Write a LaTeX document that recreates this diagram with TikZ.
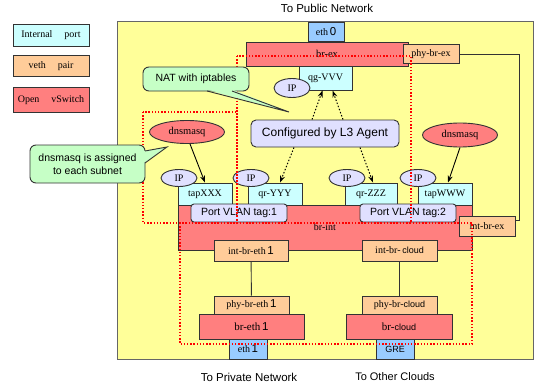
\documentclass[tikz,border=0pt]{standalone}
\usepackage{fontspec}
\setmainfont{Liberation Serif}
\setsansfont{Liberation Sans}
\usetikzlibrary{arrows.meta,shapes.geometric}
\definecolor{yel}{HTML}{FFFF99}
\definecolor{ovs}{HTML}{FF7F7F}
\definecolor{veth}{HTML}{FFCC99}
\definecolor{iport}{HTML}{CCFFFF}
\definecolor{ethc}{HTML}{99CCFF}
\definecolor{callg}{HTML}{C6FFC6}
\definecolor{lav}{HTML}{E0E0FF}
\newcommand\dgt[1]{{\fontsize{11.5}{11}\selectfont\sffamily #1}}
\newcommand\sfw[1]{{\fontsize{9}{9}\selectfont\sffamily #1}}
\begin{document}
\begin{tikzpicture}[x=1pt,y=-1pt,
  sz/.style 2 args={minimum width=#1pt, minimum height=#2pt},
  bx/.style={draw=black!80, line width=0.9pt, inner sep=0pt, font=\fontsize{10}{11}\selectfont},
  ovsbox/.style={bx, fill=ovs},
  vethbox/.style={bx, fill=veth},
  ipbox/.style={bx, fill=iport},
  ethbox/.style={bx, fill=ethc},
  ipell/.style={ellipse, draw=black!80, line width=0.9pt, fill=lav, inner sep=0pt, font=\fontsize{10}{11}\selectfont},
  dnsell/.style={ellipse, draw=black!80, line width=0.9pt, fill=ovs, inner sep=0pt, font=\fontsize{10.5}{11}\selectfont},
  tagbox/.style={draw=black!80, line width=0.9pt, fill=lav, rounded corners=3pt, inner sep=0pt, font=\sffamily\fontsize{10.5}{11}\selectfont},
  callbox/.style={draw=black!80, line width=0.9pt, fill=callg, rounded corners=6pt, inner sep=0pt, font=\sffamily\fontsize{10.5}{12.5}\selectfont, align=center},
  cline/.style={draw=black!80, line width=0.9pt},
  conn/.style={draw=black!80, line width=0.9pt},
  reddot/.style={draw=red, line width=1.2pt, dash pattern=on 1.4pt off 1.8pt},
  solidarr/.style={draw=black, line width=0.9pt, -{Stealth[length=7pt,width=5pt]}},
  dotarr/.style={draw=black, line width=1pt, dash pattern=on 1.5pt off 1.8pt, -{Stealth[length=7pt,width=5pt]}},
  outlbl/.style={font=\sffamily\fontsize{11.5}{12}\selectfont, inner sep=0pt}
]
\useasboundingbox (0,0) rectangle (534,385);

% legend
\node[ipbox, sz={76}{22}] (lg1) at (51,35) {Internal\hspace{1.2em}port};
\node[vethbox, sz={76}{21}] (lg2) at (51,66) {veth\hspace{1.2em}pair};
\node[ovsbox, sz={76}{25}] (lg3) at (51,100) {Open\hspace{1.2em}vSwitch};

% host area
\filldraw[fill=yel, draw=black!60, line width=0.8pt] (117,21) rectangle (533,359);

% outside labels
\node[outlbl] (pub) at (327,8) {To Public Network};
\node[outlbl] (priv) at (249,377) {To Private Network};
\node[outlbl, font=\sffamily\fontsize{11}{12}\selectfont] (oth) at (395,377) {To Other Clouds};

% br-ex part
\node[ethbox, sz={36}{19}] (eth0) at (326,31.5) {eth\,\dgt{0}};
\node[ovsbox, sz={162}{24}] (brex) at (327,54) {\fontsize{10.5}{11}\selectfont br-ex};
\node[vethbox, sz={56}{19}] (phybrex) at (431,54) {phy-br-ex};
\node[ipbox, sz={53}{24}] (qgvvv) at (325.5,78) {qg-VVV};
\node[ipell, sz={36}{19}] (ipq) at (292,88) {IP};

% br-int part
\node[ipbox, sz={54}{22}] (tapx) at (205,194) {tapXXX};
\node[ipbox, sz={54}{22}] (qry) at (275,194) {qr-YYY};
\node[ipbox, sz={52}{22}] (qrz) at (371,194) {qr-ZZZ};
\node[ipbox, sz={54}{22}] (tapw) at (445,194) {tapWWW};
\node[ovsbox, sz={294}{45}, label={[font=\fontsize{10}{11}\selectfont]center:{\raisebox{-4pt}{br-int}}}] (brint) at (325,227.5) {};
\node[ipell, sz={36}{17}] (ip1) at (179,178) {IP};
\node[ipell, sz={36}{17}] (ip2) at (251,178) {IP};
\node[ipell, sz={36}{17}] (ip3) at (347,178) {IP};
\node[ipell, sz={36}{17}] (ip4) at (418,178) {IP};
\node[tagbox, sz={96}{18}] (tag1) at (239,213) {Port VLAN tag:1};
\node[tagbox, sz={96}{18}] (tag2) at (408,213) {Port VLAN tag:2};
\node[vethbox, sz={56}{20}] (intbrex) at (487,226) {int-br-ex};
\node[vethbox, sz={74}{21}] (intbreth) at (251,250.5) {int-br-eth\,\dgt{1}};
\node[vethbox, sz={75}{21}] (intbrcl) at (399.5,250.5) {int-br-\,\sfw{cloud}};

% lower bridges
\node[vethbox, sz={75}{18}] (phybreth) at (251.5,305) {phy-br-eth\,\dgt{1}};
\node[ovsbox, sz={105}{25}] (breth) at (251.5,326.5) {\fontsize{11}{11}\selectfont br-eth\,\dgt{1}};
\node[ethbox, sz={38}{20}] (eth1) at (248,349) {eth\,\dgt{1}};
\node[vethbox, sz={75}{18}] (phybrcl) at (399.5,305) {phy-br-\sfw{cloud}};
\node[ovsbox, sz={106}{25}] (brcl) at (399,326.5) {\fontsize{11}{11}\selectfont br-\sfw{cloud}};
\node[ethbox, sz={38}{20}] (gre) at (395,349) {\sfw{GRE}};

% connectors
\coordinate (lp) at (519,220);
\draw[conn] (phybrex.east) -| (lp) -- (lp -| intbrex.east);
\draw[conn] (intbreth) -- (phybreth);
\draw[conn] (intbrcl) -- (phybrcl);

% red dotted regions
\draw[reddot] (143,112) rectangle (237,223);
\draw[reddot] (237,56) rectangle (411,223);
\draw[reddot] (180,223) rectangle (472,344);

% NAT callout
\fill[callg] (207,90) -- (289,112) -- (232,90) -- cycle;
\node[callbox, sz={106}{24}] (nat) at (196,79) {NAT with iptables};
\fill[callg] (207,89.4) -- (289,112) -- (232,89.4) -- cycle;
\draw[cline] (207,91) -- (289,112) -- (232,91);

% dnsmasq callout
\fill[callg] (144,151) -- (167,147) -- (144,163) -- cycle;
\node[callbox, sz={115}{38}] (dnsc) at (87.5,164) {dnsmasq is assigned\\to each subnet};
\fill[callg] (143.6,151) -- (167,147) -- (143.6,163) -- cycle;
\draw[cline] (145,151) -- (167,147) -- (145,163);

% L3 agent
\node[tagbox, font=\sffamily\fontsize{12}{13}\selectfont, rounded corners=5pt, sz={148}{27}] (l3) at (325,133.5) {Configured by L3 Agent};

% dnsmasq
\node[dnsell, sz={75}{23}] (dnsl) at (187,132) {dnsmasq};
\node[dnsell, sz={75}{24}] (dnsr) at (460,135) {dnsmasq};

% arrows
\draw[solidarr] (dnsl.south) ++(3,0) coordinate (a1) (a1) -- (tapx.north);
\draw[solidarr] (dnsr.south) -- ([xshift=3pt]tapw.north);
\draw[dotarr] ([xshift=-13pt]l3.north) -- ([xshift=-3pt]qgvvv.south);
\draw[dotarr] ([xshift=18pt]l3.north) -- ([xshift=7pt]qgvvv.south);
\draw[dotarr] ([xshift=-31pt]l3.south) -- ([xshift=5pt]qry.north);
\draw[dotarr] ([xshift=35pt]l3.south) -- ([xshift=2pt]qrz.north);
\end{tikzpicture}
\end{document}
